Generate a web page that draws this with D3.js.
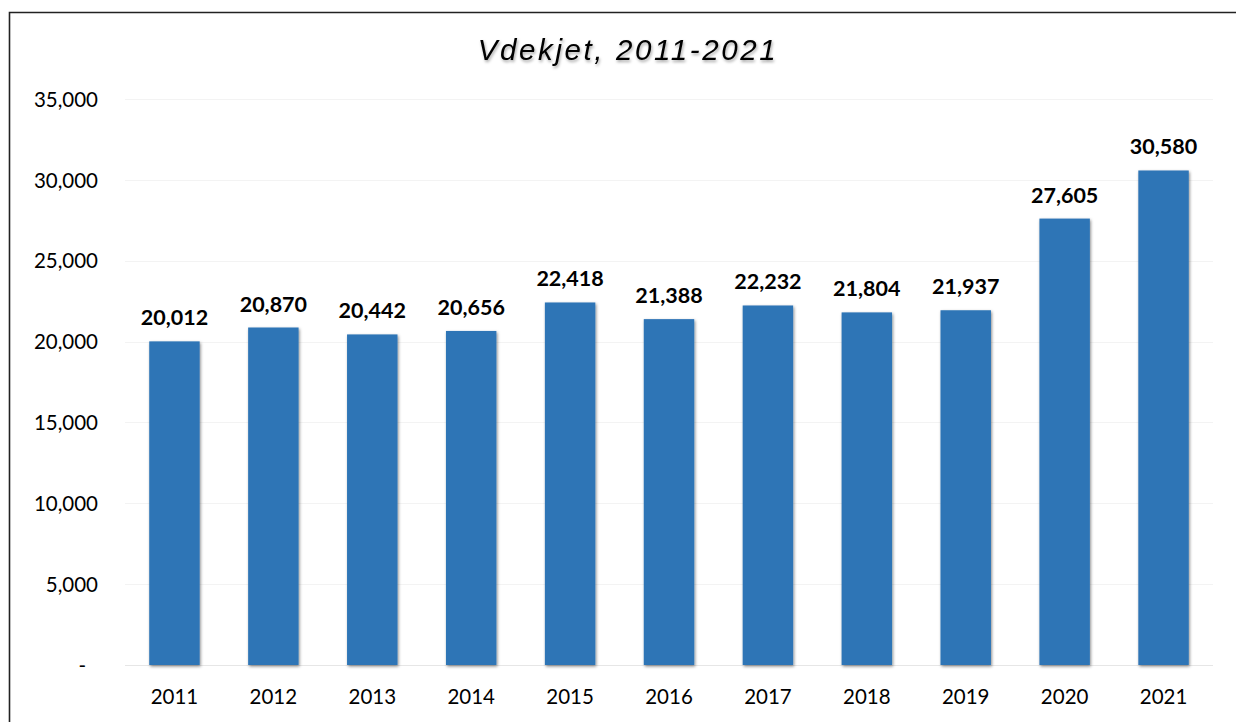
<!DOCTYPE html>
<html>
<head>
<meta charset="utf-8">
<script src="https://cdn.jsdelivr.net/npm/d3@7"></script>
<style>
  body { margin: 0; background: #fff; }
  svg { display: block; }
  .tick text { font-family: Lato, "Open Sans", sans-serif; font-size: 20.5px; fill: #000; }
</style>
</head>
<body>
<div id="chart"></div>
<script>
// Chart data
const years = ["2011", "2012", "2013", "2014", "2015", "2016", "2017", "2018", "2019", "2020", "2021"];
const deaths = [20012, 20870, 20442, 20656, 22418, 21388, 22232, 21804, 21937, 27605, 30580];
const yTicks = [0, 5000, 10000, 15000, 20000, 25000, 30000, 35000];
const title = "Vdekjet, 2011-2021";

const width = 1236, height = 722;
const margin = { top: 99, right: 23, bottom: 57, left: 125 };

const svg = d3.select("#chart").append("svg")
  .attr("width", width)
  .attr("height", height);

const defs = svg.append("defs");
const shadow = defs.append("filter").attr("id", "barShadow")
  .attr("x", "-20%").attr("y", "-5%").attr("width", "140%").attr("height", "110%");
shadow.append("feDropShadow")
  .attr("dx", 1).attr("dy", 1.5).attr("stdDeviation", 1.6)
  .attr("flood-color", "#000").attr("flood-opacity", 0.45);

const titleShadow = defs.append("filter").attr("id", "titleShadow")
  .attr("x", "-10%").attr("y", "-30%").attr("width", "120%").attr("height", "160%");
titleShadow.append("feDropShadow")
  .attr("dx", 1).attr("dy", 2).attr("stdDeviation", 1.5)
  .attr("flood-color", "#000").attr("flood-opacity", 0.35);

// outer frame (only left and top visible in reference)
svg.append("path")
  .attr("d", `M9.5,${height} V12.5 H${width}`)
  .attr("fill", "none")
  .attr("stroke", "#222")
  .attr("stroke-width", 1.6);

const x = d3.scaleBand()
  .domain(years)
  .range([margin.left, width - margin.right])
  .paddingInner(0.49)
  .paddingOuter(0.245);

const y = d3.scaleLinear()
  .domain([0, 35000])
  .range([height - margin.bottom, margin.top]);

// gridlines
svg.append("g")
  .selectAll("line")
  .data(yTicks)
  .join("line")
  .attr("x1", margin.left)
  .attr("x2", width - margin.right)
  .attr("y1", d => Math.round(y(d)) + 0.5)
  .attr("y2", d => Math.round(y(d)) + 0.5)
  .attr("stroke", d => d === 0 ? "#e6e6e6" : "#f3f3f3")
  .attr("stroke-width", 1);

// y axis
const yAxis = svg.append("g")
  .attr("transform", `translate(${margin.left - 27},0)`)
  .call(d3.axisLeft(y)
    .tickValues(yTicks)
    .tickSize(0)
    .tickPadding(0)
    .tickFormat(d => d === 0 ? "-" : d3.format(",")(d)));
yAxis.select(".domain").remove();
yAxis.selectAll(".tick text").attr("dy", "0.35em");
yAxis.selectAll(".tick").filter(d => d === 0).select("text").attr("dx", "-12");

// x axis
const xAxis = svg.append("g")
  .attr("transform", `translate(0,${height - margin.bottom})`)
  .call(d3.axisBottom(x).tickSize(0).tickPadding(24));
xAxis.select(".domain").remove();

// bars
svg.append("g")
  .selectAll("rect")
  .data(deaths)
  .join("rect")
  .attr("x", (d, i) => x(years[i]))
  .attr("width", x.bandwidth())
  .attr("y", d => y(d))
  .attr("height", d => y(0) - y(d))
  .attr("fill", "#2E75B6")
  .attr("filter", "url(#barShadow)");

// data labels
svg.append("g")
  .selectAll("text")
  .data(deaths)
  .join("text")
  .attr("x", (d, i) => x(years[i]) + x.bandwidth() / 2)
  .attr("y", d => y(d) - 16)
  .attr("text-anchor", "middle")
  .attr("font-family", "Lato, 'Open Sans', sans-serif")
  .attr("font-weight", "bold")
  .attr("font-size", 21.5)
  .attr("fill", "#000")
  .text(d => d3.format(",")(d));

// title
svg.append("text")
  .attr("x", 628)
  .attr("y", 60)
  .attr("text-anchor", "middle")
  .attr("font-family", "'Liberation Sans', Arial, sans-serif")
  .attr("font-style", "italic")
  .attr("font-size", 29.5)
  .attr("letter-spacing", 2.6)
  .attr("fill", "#000")
  .attr("filter", "url(#titleShadow)")
  .text(title);
</script>
</body>
</html>
